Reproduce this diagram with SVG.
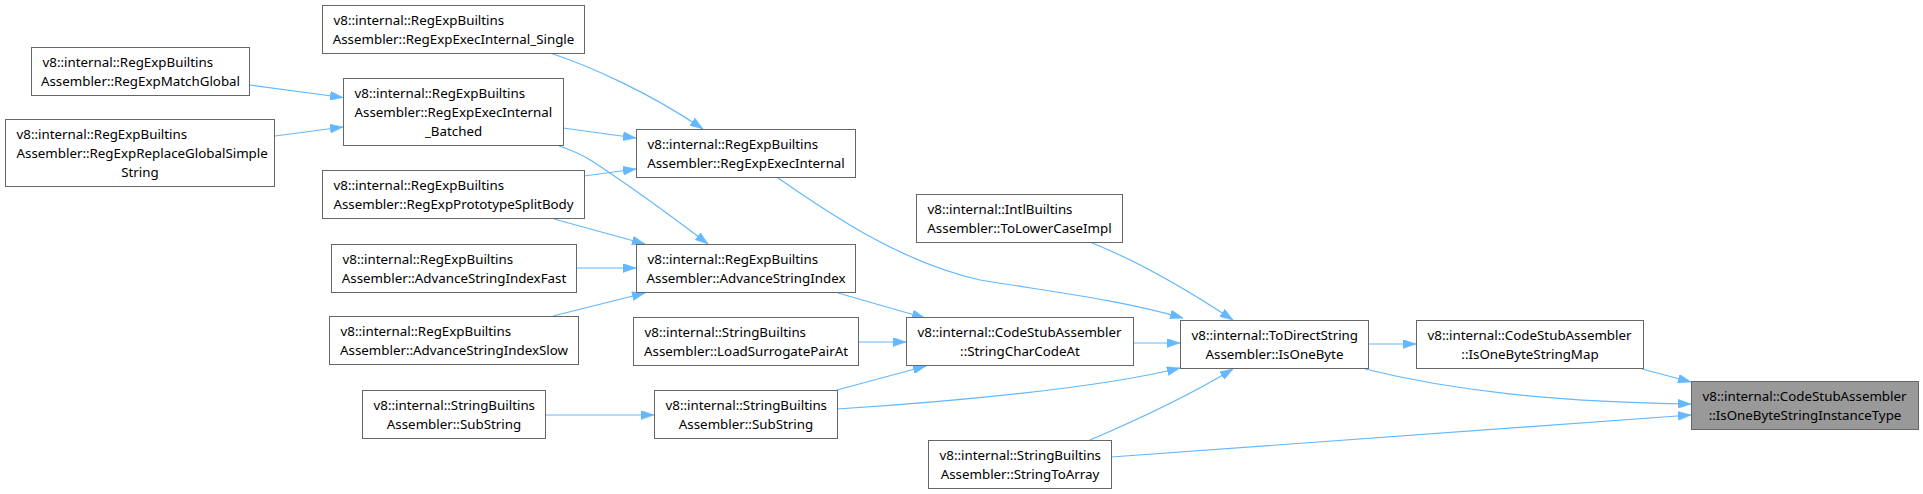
<svg xmlns="http://www.w3.org/2000/svg" width="1923" height="494" viewBox="0 0 1923 494">
<style>
.n rect{fill:#fff;stroke:#666;stroke-width:1}
.t rect{fill:#999;stroke:#666;stroke-width:1}
text{font-family:"Noto Sans","Open Sans",sans-serif;font-size:13.33px;fill:#000}
.s{text-anchor:start}
.m{text-anchor:middle}
.e path{fill:none;stroke:#63b8ff;stroke-width:1.2;marker-end:url(#ah)}
</style>
<defs>
<marker id="ah" viewBox="0 0 13 9" refX="13" refY="4.5" markerWidth="13" markerHeight="9" markerUnits="userSpaceOnUse" orient="auto">
<path d="M0,0 L13,4.5 L0,9 z" fill="#63b8ff" stroke="#63b8ff" stroke-width="0.5"/>
</marker>
</defs>
<rect width="1923" height="494" fill="#fff"/>
<g class="e" id="edges">
<path d="M249.5,85 L343,97.5"/>
<path d="M275,136 L343,127"/>
<path d="M550,53 C590,66 650,93 703,129"/>
<path d="M563,128 L636,138"/>
<path d="M584,176 L636,169"/>
<path d="M559,146 C572,150 582,155 592,161 C630,186 670,215 708,244"/>
<path d="M554,219 L645,244"/>
<path d="M577,268 L636,268"/>
<path d="M553,316 L645,293"/>
<path d="M838,293 L925,318"/>
<path d="M858,342 L906,342"/>
<path d="M837,390 L926,366"/>
<path d="M545,415 L654,415"/>
<path d="M778,178 C830,214 900,262 980,280 C1060,293 1120,300 1183,318"/>
<path d="M1092,243 C1130,258 1180,285 1233,320"/>
<path d="M1133,343 L1180,343"/>
<path d="M837,409 C950,402 1100,388 1180,368"/>
<path d="M1090,440 C1130,423 1190,395 1233,369"/>
<path d="M1111,457 L1691,415"/>
<path d="M1369,344 L1416,344"/>
<path d="M1642,369 L1691,382"/>
<path d="M1365,369 C1450,390 1550,402 1691,404"/>
</g>
<g class="n" id="n_single"><rect x="322.5" y="5.5" width="262" height="48"/><text class="s" x="333.5" y="24.5">v8::internal::RegExpBuiltins</text><text class="m" x="453.5" y="43.5">Assembler::RegExpExecInternal_Single</text></g>
<g class="n" id="n_match"><rect x="31.5" y="47.5" width="218" height="48"/><text class="s" x="42.5" y="66.5">v8::internal::RegExpBuiltins</text><text class="m" x="140.5" y="85.5">Assembler::RegExpMatchGlobal</text></g>
<g class="n" id="n_batched"><rect x="343.5" y="78.5" width="220" height="67"/><text class="s" x="354.5" y="97.5">v8::internal::RegExpBuiltins</text><text class="s" x="354.5" y="116.5">Assembler::RegExpExecInternal</text><text class="m" x="453.5" y="135.5">_Batched</text></g>
<g class="n" id="n_replace"><rect x="5.5" y="119.5" width="269" height="67"/><text class="s" x="16.5" y="138.5">v8::internal::RegExpBuiltins</text><text class="s" x="16.5" y="157.5">Assembler::RegExpReplaceGlobalSimple</text><text class="m" x="140" y="176.5">String</text></g>
<g class="n" id="n_split"><rect x="322.5" y="170.5" width="262" height="48"/><text class="s" x="333.5" y="189.5">v8::internal::RegExpBuiltins</text><text class="m" x="453.5" y="208.5">Assembler::RegExpPrototypeSplitBody</text></g>
<g class="n" id="n_advfast"><rect x="331.5" y="244.5" width="245" height="48"/><text class="s" x="342.5" y="263.5">v8::internal::RegExpBuiltins</text><text class="m" x="454" y="282.5">Assembler::AdvanceStringIndexFast</text></g>
<g class="n" id="n_advslow"><rect x="329.5" y="316.5" width="249" height="48"/><text class="s" x="340.5" y="335.5">v8::internal::RegExpBuiltins</text><text class="m" x="454" y="354.5">Assembler::AdvanceStringIndexSlow</text></g>
<g class="n" id="n_subleft"><rect x="362.5" y="390.5" width="183" height="48"/><text class="s" x="373.5" y="409.5">v8::internal::StringBuiltins</text><text class="m" x="454" y="428.5">Assembler::SubString</text></g>
<g class="n" id="n_execint"><rect x="636.5" y="129.5" width="219" height="48"/><text class="s" x="647.5" y="148.5">v8::internal::RegExpBuiltins</text><text class="m" x="746" y="167.5">Assembler::RegExpExecInternal</text></g>
<g class="n" id="n_advidx"><rect x="636.5" y="244.5" width="219" height="48"/><text class="s" x="647.5" y="263.5">v8::internal::RegExpBuiltins</text><text class="m" x="746" y="282.5">Assembler::AdvanceStringIndex</text></g>
<g class="n" id="n_loadsur"><rect x="633.5" y="317.5" width="225" height="48"/><text class="s" x="644.5" y="336.5">v8::internal::StringBuiltins</text><text class="m" x="746" y="355.5">Assembler::LoadSurrogatePairAt</text></g>
<g class="n" id="n_submid"><rect x="654.5" y="390.5" width="183" height="48"/><text class="s" x="665.5" y="409.5">v8::internal::StringBuiltins</text><text class="m" x="746" y="428.5">Assembler::SubString</text></g>
<g class="n" id="n_tolower"><rect x="916.5" y="194.5" width="206" height="48"/><text class="s" x="927.5" y="213.5">v8::internal::IntlBuiltins</text><text class="m" x="1019.5" y="232.5">Assembler::ToLowerCaseImpl</text></g>
<g class="n" id="n_charcode"><rect x="906.5" y="317.5" width="227" height="48"/><text class="s" x="917.5" y="336.5">v8::internal::CodeStubAssembler</text><text class="m" x="1020" y="355.5">::StringCharCodeAt</text></g>
<g class="n" id="n_toarray"><rect x="928.5" y="440.5" width="183" height="48"/><text class="s" x="939.5" y="459.5">v8::internal::StringBuiltins</text><text class="m" x="1020" y="478.5">Assembler::StringToArray</text></g>
<g class="n" id="n_isonebyte"><rect x="1180.5" y="320.5" width="188" height="48"/><text class="s" x="1191.5" y="339.5">v8::internal::ToDirectString</text><text class="m" x="1274.5" y="358.5">Assembler::IsOneByte</text></g>
<g class="n" id="n_map"><rect x="1416.5" y="320.5" width="227" height="48"/><text class="s" x="1427.5" y="339.5">v8::internal::CodeStubAssembler</text><text class="m" x="1530" y="358.5">::IsOneByteStringMap</text></g>
<g class="t" id="n_target"><rect x="1691.5" y="381.5" width="227" height="48"/><text class="s" x="1702.5" y="400.5">v8::internal::CodeStubAssembler</text><text class="m" x="1805" y="419.5">::IsOneByteStringInstanceType</text></g>
</svg>
